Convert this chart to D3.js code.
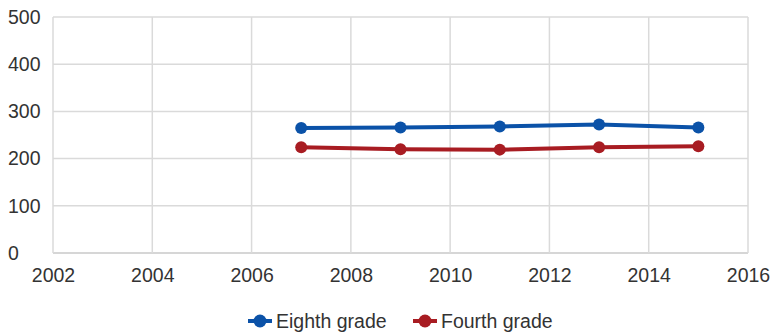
<!DOCTYPE html>
<html lang="en">
<head>
<meta charset="UTF-8">
<title>Scores</title>
<script src="https://cdnjs.cloudflare.com/ajax/libs/d3/7.8.5/d3.min.js"></script>
<style>
  body { margin: 0; background: #fff; font-family: "Liberation Sans", Arial, sans-serif; }
  svg text { fill: #333; font-size: 19.5px; font-family: "Liberation Sans", Arial, sans-serif; }
</style>
</head>
<body>
<svg id="chart" width="772" height="332"></svg>
<script>
const years = [2007, 2009, 2011, 2013, 2015];
const eighthGrade = [265, 266, 268, 272, 266];
const fourthGrade = [224, 220, 219, 224, 226];
const xTicks = [2002, 2004, 2006, 2008, 2010, 2012, 2014, 2016];
const yTicks = [0, 100, 200, 300, 400, 500];

const series = [
  { name: "Eighth grade", values: eighthGrade, color: "#0b52a8" },
  { name: "Fourth grade", values: fourthGrade, color: "#a81c22" }
];

const svg = d3.select("#chart");
const plotL = 53, plotR = 748, plotT = 17, plotB = 253;

const x = d3.scaleLinear().domain([2002, 2016]).range([plotL, plotR]);
const y = d3.scaleLinear().domain([0, 500]).range([plotB, plotT]);

// grid
const grid = svg.append("g");
grid.selectAll(".hg").data(yTicks).enter().append("line")
  .attr("x1", plotL).attr("x2", plotR)
  .attr("y1", d => y(d)).attr("y2", d => y(d))
  .attr("stroke", d => d === 0 ? "#c8c8c8" : "#dadada").attr("stroke-width", 1.5);
grid.selectAll(".vg").data(xTicks).enter().append("line")
  .attr("y1", plotT).attr("y2", plotB)
  .attr("x1", d => x(d)).attr("x2", d => x(d))
  .attr("stroke", "#dadada").attr("stroke-width", 1.5);

// y labels are left aligned in the original
svg.append("g").attr("transform", "translate(8,0)")
  .call(d3.axisLeft(y).tickValues(yTicks).tickSize(0).tickPadding(0))
  .call(g => g.select(".domain").remove())
  .selectAll("text").attr("text-anchor", "start").attr("fill", "#333")
  .attr("font-size", null).attr("font-family", null);

svg.append("g").attr("transform", `translate(0,${plotB + 15})`)
  .call(d3.axisBottom(x).tickValues(xTicks).tickFormat(d3.format("d")).tickSize(0).tickPadding(0))
  .call(g => g.select(".domain").remove())
  .selectAll("text").attr("fill", "#333")
  .attr("font-size", null).attr("font-family", null);

// lines + markers
const line = d3.line().x((d, i) => x(years[i])).y(d => y(d));
series.forEach(s => {
  svg.append("path").datum(s.values)
    .attr("d", line).attr("fill", "none")
    .attr("stroke", s.color).attr("stroke-width", 4);
  svg.selectAll(null).data(s.values).enter().append("circle")
    .attr("cx", (d, i) => x(years[i])).attr("cy", d => y(d))
    .attr("r", 6).attr("fill", s.color);
});

// legend
const legendX = [260, 425];
const legend = svg.selectAll(".lg").data(series).enter().append("g")
  .attr("transform", (d, i) => `translate(${legendX[i]},321)`);
legend.append("line").attr("x1", -12).attr("x2", 12).attr("y1", 0).attr("y2", 0)
  .attr("stroke", d => d.color).attr("stroke-width", 4);
legend.append("circle").attr("cx", 0).attr("cy", 0).attr("r", 6.5).attr("fill", d => d.color);
legend.append("text").attr("x", 16).attr("y", 7).text(d => d.name);
</script>
</body>
</html>
